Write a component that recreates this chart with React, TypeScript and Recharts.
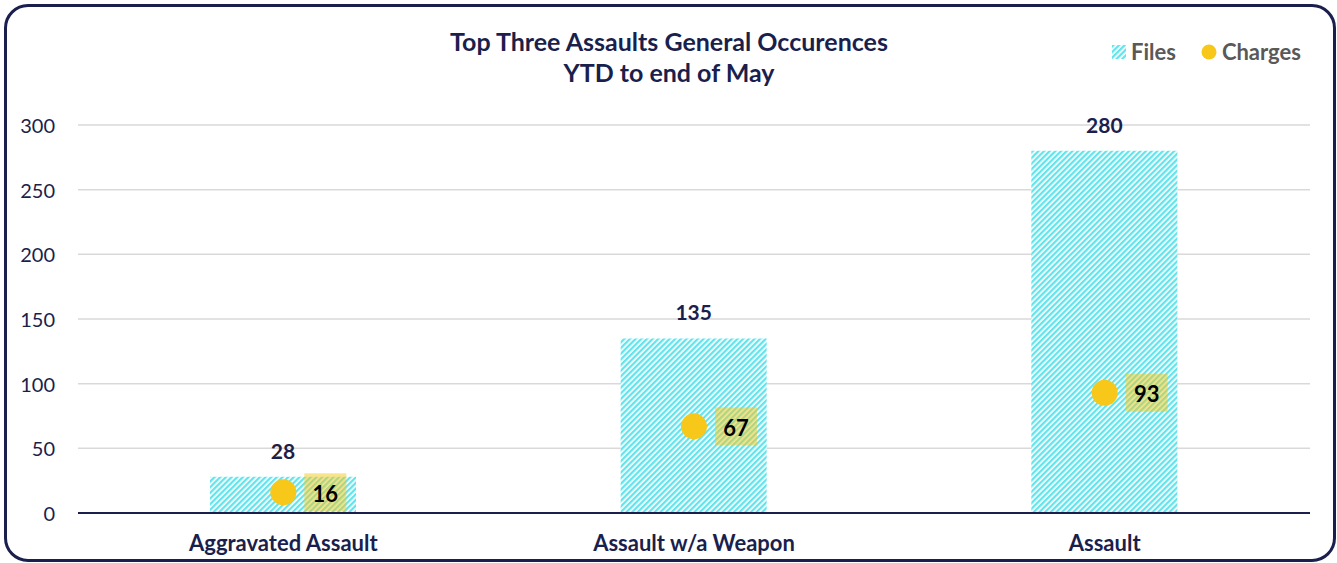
import React from 'react';
import { ComposedChart, Bar, Line, XAxis, YAxis, CartesianGrid, LabelList } from 'recharts';

const categories = ['Aggravated Assault', 'Assault w/a Weapon', 'Assault'];
const filesValues = [28, 135, 280];
const chargesValues = [16, 67, 93];
const yTicks = [0, 50, 100, 150, 200, 250, 300];

const data = categories.map((c, i) => ({ name: c, files: filesValues[i], charges: chargesValues[i] }));

const NAVY = '#1a1f4d';
const CYAN = '#62e4ec';
const YELLOW = '#f7c81a';
const FONT = 'Lato, "Open Sans", sans-serif';

const YTick = (props: any) => (
  <text x={props.x} y={props.y} textAnchor="end" dominantBaseline="central" fill={NAVY} fontSize={20} fontFamily={FONT}>
    {props.payload.value}
  </text>
);

const XTick = (props: any) => (
  <text x={props.x} y={props.y + 30} textAnchor="middle" fill={NAVY} fontSize={22} fontWeight={700} fontFamily={FONT}>
    {props.payload.value}
  </text>
);

const BarLabel = (props: any) => {
  const { x, y, width, value } = props;
  return (
    <text x={x + width / 2} y={y - 18} textAnchor="middle" fill={NAVY} fontSize={21} fontWeight={700} fontFamily={FONT}>
      {value}
    </text>
  );
};

const ChargeDot = (props: any) => {
  const { cx, cy } = props;
  return <circle key={props.index} cx={cx} cy={cy} r={13} fill={YELLOW} />;
};

const ChargeLabel = (props: any) => {
  const { x, y, value } = props;
  return (
    <g>
      <rect x={x + 21} y={y - 19} width={42} height={38} fill={YELLOW} fillOpacity={0.5} />
      <text x={x + 42} y={y + 1} textAnchor="middle" dominantBaseline="central" fill="#000" fontSize={22} fontWeight={700} fontFamily={FONT}>
        {value}
      </text>
    </g>
  );
};

export default function App() {
  return (
    <div style={{ position: 'absolute', left: 0, top: 0, width: 1337, height: 563, background: '#fff', overflow: 'hidden' }}>
      <div style={{ position: 'absolute', left: 4, top: 4, width: 1332, height: 558, boxSizing: 'border-box', border: `3px solid ${NAVY}`, borderRadius: 24 }} />
      <div style={{ position: 'absolute', left: 0, top: 26, width: 1338, textAlign: 'center', fontFamily: FONT, fontWeight: 700, fontSize: 25, lineHeight: '31px', color: NAVY }}>
        Top Three Assaults General Occurences
        <br />
        YTD to end of May
      </div>
      <div style={{ position: 'absolute', left: 0, top: 0 }}>
        <ComposedChart width={1337} height={563} data={data} margin={{ top: 125, right: 27, bottom: 20, left: 18 }} barCategoryGap="32%">
          <defs>
            <pattern id="stripes" patternUnits="userSpaceOnUse" width={4} height={4} patternTransform="rotate(45)">
              <rect x={0} y={0} width={4} height={4} fill="#fff" />
              <rect x={0} y={0} width={2.3} height={4} fill={CYAN} />
            </pattern>
          </defs>
          <CartesianGrid vertical={false} stroke="#d9d9d9" strokeWidth={1.5} />
          <XAxis dataKey="name" height={30} axisLine={{ stroke: NAVY, strokeWidth: 2 }} tickLine={false} tick={<XTick />} interval={0} />
          <YAxis width={60} domain={[0, 300]} ticks={yTicks} axisLine={false} tickLine={false} tickMargin={17} tick={<YTick />} />
          <Bar dataKey="files" name="Files" fill="url(#stripes)" barSize={146} isAnimationActive={false}>
            <LabelList dataKey="files" content={<BarLabel />} />
          </Bar>
          <Line dataKey="charges" name="Charges" stroke="none" dot={<ChargeDot />} activeDot={false} isAnimationActive={false}>
            <LabelList dataKey="charges" content={<ChargeLabel />} />
          </Line>
        </ComposedChart>
      </div>
      <div style={{ position: 'absolute', left: 1112, top: 39, display: 'flex', alignItems: 'center', fontFamily: FONT, fontWeight: 700, fontSize: 22, lineHeight: '26px', color: '#595959' }}>
        <svg width={14} height={14} style={{ marginRight: 5 }}>
          <rect x={0} y={0} width={14} height={14} fill="url(#stripes)" />
        </svg>
        <span style={{ marginRight: 25 }}>Files</span>
        <svg width={16} height={16} style={{ marginRight: 5 }}>
          <circle cx={8} cy={8} r={7.5} fill={YELLOW} />
        </svg>
        <span>Charges</span>
      </div>
    </div>
  );
}
